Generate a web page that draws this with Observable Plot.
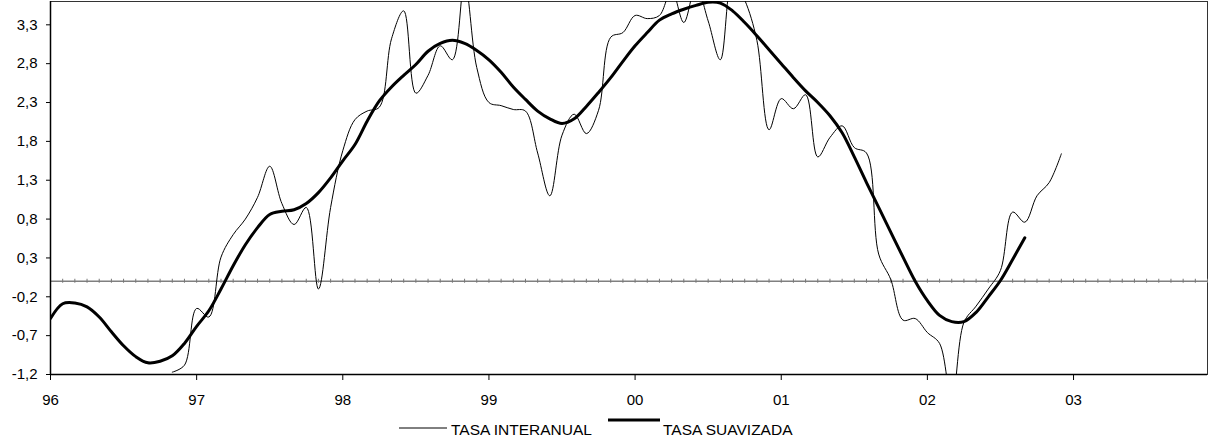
<!DOCTYPE html>
<html>
<head>
<meta charset="utf-8">
<script src="https://cdn.jsdelivr.net/npm/d3@7"></script>
<script src="https://cdn.jsdelivr.net/npm/@observablehq/plot@0.6"></script>
<style>
  html, body { margin: 0; padding: 0; background: #fff; }
  #chart { position: relative; width: 1208px; height: 441px; font-family: "Liberation Sans", Arial, sans-serif; }
  #legend { display: block; }
</style>
</head>
<body>
<div id="chart"></div>
<script>
// Monthly series, first value of "suavizada" is Jan 1996, of "interanual" is Nov 1996
const startYear = 1996;
const suavizadaStart = 0;   // month offset
const interanualStart = 10; // month offset
const suavizada = [
  -0.48, -0.29, -0.28, -0.33, -0.46, -0.65, -0.83, -0.97, -1.05, -1.03, -0.96, -0.80,
  -0.58, -0.38, -0.10, 0.20, 0.47, 0.69, 0.86, 0.90, 0.92, 1.00, 1.14, 1.33,
  1.55, 1.76, 2.06, 2.32, 2.50, 2.65, 2.79, 2.96, 3.06, 3.10, 3.06, 2.97,
  2.85, 2.69, 2.50, 2.34, 2.19, 2.09, 2.03, 2.09, 2.25, 2.43, 2.62, 2.83,
  3.03, 3.20, 3.36, 3.44, 3.50, 3.55, 3.59, 3.58, 3.48, 3.33, 3.16, 2.98,
  2.80, 2.62, 2.45, 2.30, 2.13, 1.91, 1.60, 1.27, 0.95, 0.63, 0.31, 0.00,
  -0.25, -0.44, -0.52, -0.52, -0.40, -0.20, 0.01, 0.28, 0.56
];
const interanual = [
  -1.17, -1.08,
  -0.35, -0.46, 0.31, 0.60, 0.80, 1.08, 1.48, 1.00, 0.73, 0.95, -0.10, 0.95,
  1.68, 2.08, 2.19, 2.24, 3.12, 3.48, 2.42, 2.65, 3.03, 2.85, 3.85, 2.75,
  2.30, 2.26, 2.21, 2.19, 1.65, 1.10, 1.88, 2.15, 1.90, 2.20, 3.14, 3.20,
  3.42, 3.38, 3.42, 3.75, 3.33, 3.80, 3.35, 2.85, 3.90, 3.62, 3.10, 1.95,
  2.35, 2.22, 2.40, 1.60, 1.85, 2.00, 1.72, 1.65, 0.35, 0.02, -0.50, -0.48,
  -0.66, -0.80, -1.55, -0.53, -0.32, -0.10, 0.14, 0.89, 0.76, 1.10, 1.27, 1.64
];
const yTicks = [-1.2, -0.7, -0.2, 0.3, 0.8, 1.3, 1.8, 2.3, 2.8, 3.3];
const xTicks = [1996, 1997, 1998, 1999, 2000, 2001, 2002, 2003];
const yDomain = [-1.2, 3.6];
const totalMonths = 95;
const labels = ["TASA INTERANUAL", "TASA SUAVIZADA"];

const toTable = (arr, start) => arr.map((v, i) => ({x: startYear + (start + i) / 12, y: v}));
const dataS = toTable(suavizada, suavizadaStart);
const dataI = toTable(interanual, interanualStart);
const monthTicks = d3.range(0, totalMonths + 1).map(m => startYear + m / 12);

const plot = Plot.plot({
  width: 1208,
  height: 410,
  marginLeft: 50,
  marginRight: 1,
  marginTop: 1,
  marginBottom: 36,
  style: {fontFamily: "'Liberation Sans', Arial, sans-serif", fontSize: "15px", color: "#000", background: "#fff"},
  x: {domain: [startYear, startYear + totalMonths / 12]},
  y: {domain: yDomain},
  marks: [
    Plot.frame({stroke: "#333", strokeWidth: 1}),
    Plot.ruleY([0], {stroke: "#808080", strokeWidth: 1.5}),
    Plot.ruleX(monthTicks, {x: d => d, y1: 0, y2: 0, insetTop: -2, insetBottom: -2, stroke: "#777", strokeWidth: 1}),
    Plot.line(dataI, {x: "x", y: "y", curve: "catmull-rom", stroke: "#000", strokeWidth: 1, clip: true}),
    Plot.line(dataS, {x: "x", y: "y", curve: "catmull-rom", stroke: "#000", strokeWidth: 3, clip: true}),
    Plot.ruleX([startYear], {stroke: "#000", strokeWidth: 1.5}),
    Plot.ruleY([yDomain[0]], {stroke: "#000", strokeWidth: 1.5}),
    Plot.axisY({ticks: yTicks, tickSize: 4, tickPadding: 9, tickFormat: d => d.toFixed(1).replace(".", ","), label: null}),
    Plot.axisX({ticks: xTicks, tickSize: 6, tickPadding: 14, tickFormat: d => String(d % 100).padStart(2, "0"), label: null})
  ]
});
document.getElementById("chart").appendChild(plot);

// Legend below the SVG
const ns = "http://www.w3.org/2000/svg";
const leg = d3.select("#chart").append("svg")
  .attr("id", "legend")
  .attr("width", 1208).attr("height", 31)
  .style("font-family", "'Liberation Sans', Arial, sans-serif");
leg.append("line").attr("x1", 399).attr("x2", 447).attr("y1", 18).attr("y2", 18)
  .attr("stroke", "#000").attr("stroke-width", 1);
leg.append("text").attr("x", 451).attr("y", 24.5).attr("font-size", "15.5px").attr("fill", "#000").text(labels[0]);
leg.append("line").attr("x1", 608).attr("x2", 660).attr("y1", 10).attr("y2", 10)
  .attr("stroke", "#000").attr("stroke-width", 3);
leg.append("text").attr("x", 663).attr("y", 24.5).attr("font-size", "15.5px").attr("fill", "#000").text(labels[1]);
</script>
</body>
</html>
